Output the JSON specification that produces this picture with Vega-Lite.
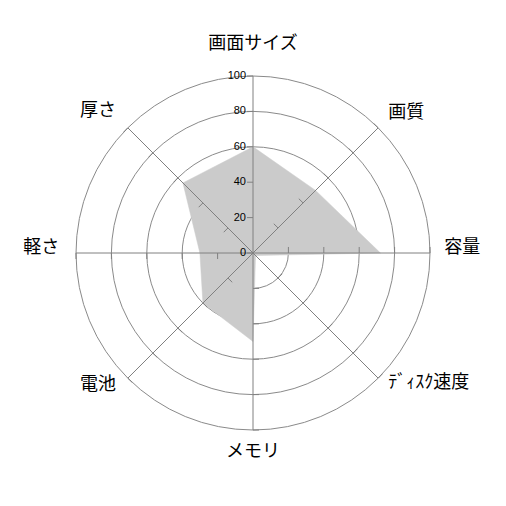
{
  "$schema": "https://vega.github.io/schema/vega-lite/v6.json",
  "width": 354,
  "height": 354,
  "autosize": "none",
  "padding": 76,
  "background": "white",
  "config": {"view": {"stroke": null}},
  "datasets": {
    "scores": [
      {"axis": "画面サイズ", "k": 0, "value": 60},
      {"axis": "画質", "k": 1, "value": 50},
      {"axis": "容量", "k": 2, "value": 72},
      {"axis": "ﾃﾞｨｽｸ速度", "k": 3, "value": 2},
      {"axis": "メモリ", "k": 4, "value": 50},
      {"axis": "電池", "k": 5, "value": 40},
      {"axis": "軽さ", "k": 6, "value": 30},
      {"axis": "厚さ", "k": 7, "value": 56}
    ],
    "rings": [{"r": 20}, {"r": 40}, {"r": 60}, {"r": 80}, {"r": 100}],
    "scale": [{"v": 0}, {"v": 20}, {"v": 40}, {"v": 60}, {"v": 80}, {"v": 100}],
    "ticks": [
      {"k": 0, "r": 0}, {"k": 0, "r": 20}, {"k": 0, "r": 40}, {"k": 0, "r": 60}, {"k": 0, "r": 80}, {"k": 0, "r": 100},
      {"k": 1, "r": 20}, {"k": 1, "r": 40}, {"k": 1, "r": 60}, {"k": 1, "r": 80}, {"k": 1, "r": 100},
      {"k": 2, "r": 20}, {"k": 2, "r": 40}, {"k": 2, "r": 60}, {"k": 2, "r": 80}, {"k": 2, "r": 100},
      {"k": 3, "r": 20}, {"k": 3, "r": 40}, {"k": 3, "r": 60}, {"k": 3, "r": 80}, {"k": 3, "r": 100},
      {"k": 4, "r": 20}, {"k": 4, "r": 40}, {"k": 4, "r": 60}, {"k": 4, "r": 80}, {"k": 4, "r": 100},
      {"k": 5, "r": 20}, {"k": 5, "r": 40}, {"k": 5, "r": 60}, {"k": 5, "r": 80}, {"k": 5, "r": 100},
      {"k": 6, "r": 20}, {"k": 6, "r": 40}, {"k": 6, "r": 60}, {"k": 6, "r": 80}, {"k": 6, "r": 100},
      {"k": 7, "r": 20}, {"k": 7, "r": 40}, {"k": 7, "r": 60}, {"k": 7, "r": 80}, {"k": 7, "r": 100}
    ]
  },
  "layer": [
    {
      "data": {"name": "rings"},
      "mark": {"type": "arc", "theta": 0, "theta2": 6.2832, "fill": null, "stroke": "#8a8a8a", "strokeWidth": 1},
      "encoding": {
        "radius": {"field": "r", "type": "quantitative", "stack": null, "scale": {"type": "linear", "domain": [0, 100], "range": [0, 177], "zero": true}}
      }
    },
    {
      "data": {"name": "scores"},
      "transform": [
        {"calculate": "datum.k * PI / 4", "as": "a"},
        {"calculate": "datum.value * sin(datum.a)", "as": "px"},
        {"calculate": "datum.value * cos(datum.a)", "as": "py"}
      ],
      "mark": {"type": "line", "interpolate": "linear-closed", "fill": "#cbcbcb", "stroke": "#cbcbcb", "strokeWidth": 0.5},
      "encoding": {
        "x": {"field": "px", "type": "quantitative", "scale": {"domain": [-100, 100]}, "axis": null},
        "y": {"field": "py", "type": "quantitative", "scale": {"domain": [-100, 100]}, "axis": null},
        "order": {"field": "k", "type": "quantitative"}
      }
    },
    {
      "data": {"name": "scores"},
      "transform": [
        {"calculate": "datum.k * PI / 4", "as": "a"},
        {"calculate": "0 * datum.k", "as": "ox"},
        {"calculate": "100 * sin(datum.a)", "as": "ex"},
        {"calculate": "100 * cos(datum.a)", "as": "ey"}
      ],
      "mark": {"type": "rule", "stroke": "#808080", "strokeWidth": 1},
      "encoding": {
        "x": {"field": "ox", "type": "quantitative"},
        "y": {"field": "ox", "type": "quantitative"},
        "x2": {"field": "ex"},
        "y2": {"field": "ey"}
      }
    },
    {
      "data": {"name": "ticks"},
      "transform": [
        {"calculate": "datum.k * PI / 4", "as": "a"},
        {"calculate": "datum.r * sin(datum.a)", "as": "tx"},
        {"calculate": "datum.r * cos(datum.a)", "as": "ty"},
        {"calculate": "datum.tx - 3.4 * cos(datum.a)", "as": "tx2"},
        {"calculate": "datum.ty + 3.4 * sin(datum.a)", "as": "ty2"}
      ],
      "mark": {"type": "rule", "stroke": "#808080", "strokeWidth": 1},
      "encoding": {
        "x": {"field": "tx", "type": "quantitative"},
        "y": {"field": "ty", "type": "quantitative"},
        "x2": {"field": "tx2"},
        "y2": {"field": "ty2"}
      }
    },
    {
      "data": {"name": "scale"},
      "transform": [{"calculate": "0 * datum.v", "as": "ox"}],
      "mark": {"type": "text", "align": "right", "baseline": "middle", "dx": -7, "font": "Liberation Sans", "fontSize": 11, "fill": "#000000"},
      "encoding": {
        "x": {"field": "ox", "type": "quantitative"},
        "y": {"field": "v", "type": "quantitative"},
        "text": {"field": "v", "type": "quantitative"}
      }
    },
    {
      "data": {"name": "scores"},
      "transform": [
        {"filter": "datum.k == 0 || datum.k == 4"},
        {"calculate": "datum.k * PI / 4", "as": "a"},
        {"calculate": "115 * sin(datum.a)", "as": "lx"},
        {"calculate": "115 * cos(datum.a)", "as": "ly"}
      ],
      "mark": {"type": "text", "align": "center", "baseline": "middle", "dy": -5, "font": "Noto Sans CJK JP", "fontSize": 18, "fill": "#000000"},
      "encoding": {
        "x": {"field": "lx", "type": "quantitative"},
        "y": {"field": "ly", "type": "quantitative"},
        "text": {"field": "axis"}
      }
    },
    {
      "data": {"name": "scores"},
      "transform": [
        {"filter": "datum.k >= 1 && datum.k <= 3"},
        {"calculate": "datum.k * PI / 4", "as": "a"},
        {"calculate": "108 * sin(datum.a)", "as": "lx"},
        {"calculate": "108 * cos(datum.a)", "as": "ly"}
      ],
      "mark": {"type": "text", "align": "left", "baseline": "middle", "dy": -5, "font": "Noto Sans CJK JP", "fontSize": 18, "fill": "#000000"},
      "encoding": {
        "x": {"field": "lx", "type": "quantitative"},
        "y": {"field": "ly", "type": "quantitative"},
        "text": {"field": "axis"}
      }
    },
    {
      "data": {"name": "scores"},
      "transform": [
        {"filter": "datum.k >= 5"},
        {"calculate": "datum.k * PI / 4", "as": "a"},
        {"calculate": "109.5 * sin(datum.a)", "as": "lx"},
        {"calculate": "109.5 * cos(datum.a)", "as": "ly"}
      ],
      "mark": {"type": "text", "align": "right", "baseline": "middle", "dy": -5, "font": "Noto Sans CJK JP", "fontSize": 18, "fill": "#000000"},
      "encoding": {
        "x": {"field": "lx", "type": "quantitative"},
        "y": {"field": "ly", "type": "quantitative"},
        "text": {"field": "axis"}
      }
    }
  ]
}
